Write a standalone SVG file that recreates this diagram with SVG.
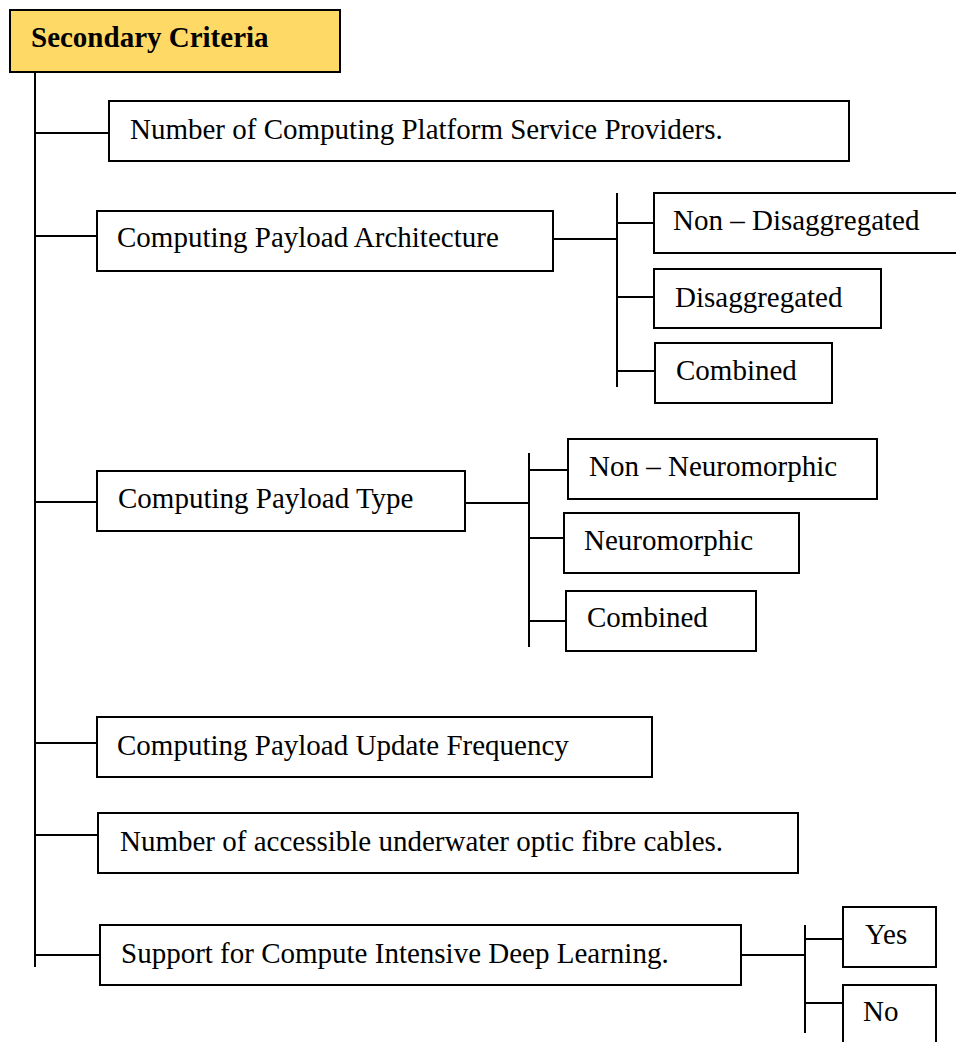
<svg xmlns="http://www.w3.org/2000/svg" width="956" height="1042" viewBox="0 0 956 1042">
<style>
.box{fill:#fff;stroke:#000;stroke-width:2}
.title{fill:#FFD966;stroke:#000;stroke-width:2}
.t{font-family:"Liberation Serif","Times New Roman",serif;font-size:29px;fill:#000}
.tb{font-family:"Liberation Serif","Times New Roman",serif;font-size:29px;font-weight:bold;fill:#000}
.c{stroke:#000;stroke-width:2;fill:none}
</style>
<rect width="956" height="1042" fill="#fff"/>
<g id="connectors">
<line class="c" x1="35" y1="72" x2="35" y2="967"/>
<line class="c" x1="35" y1="133" x2="109" y2="133"/>
<line class="c" x1="35" y1="236" x2="97" y2="236"/>
<line class="c" x1="35" y1="502" x2="97" y2="502"/>
<line class="c" x1="35" y1="743" x2="97" y2="743"/>
<line class="c" x1="35" y1="835" x2="98" y2="835"/>
<line class="c" x1="35" y1="955" x2="100" y2="955"/>
<line class="c" x1="553" y1="239" x2="617" y2="239"/>
<line class="c" x1="617" y1="193" x2="617" y2="387"/>
<line class="c" x1="617" y1="223" x2="654" y2="223"/>
<line class="c" x1="617" y1="297" x2="654" y2="297"/>
<line class="c" x1="617" y1="371" x2="655" y2="371"/>
<line class="c" x1="465" y1="503" x2="529" y2="503"/>
<line class="c" x1="529" y1="453" x2="529" y2="647"/>
<line class="c" x1="529" y1="470" x2="567" y2="470"/>
<line class="c" x1="529" y1="538" x2="564" y2="538"/>
<line class="c" x1="529" y1="621" x2="566" y2="621"/>
<line class="c" x1="741" y1="955" x2="805" y2="955"/>
<line class="c" x1="805" y1="925" x2="805" y2="1033"/>
<line class="c" x1="805" y1="939" x2="843" y2="939"/>
<line class="c" x1="805" y1="1003" x2="843" y2="1003"/>
</g>
<g id="n-root"><rect class="title" x="10" y="10" width="330" height="62"/><text class="tb" x="31" y="47">Secondary Criteria</text></g>
<g id="n-providers"><rect class="box" x="109" y="101" width="740" height="60"/><text class="t" x="130" y="139">Number of Computing Platform Service Providers.</text></g>
<g id="n-arch"><rect class="box" x="97" y="211" width="456" height="60"/><text class="t" x="117" y="247">Computing Payload Architecture</text></g>
<g id="n-nondisagg"><rect class="box" x="654" y="193" width="310" height="60"/><text class="t" x="673" y="230">Non – Disaggregated</text></g>
<g id="n-disagg"><rect class="box" x="654" y="269" width="227" height="59"/><text class="t" x="675" y="307">Disaggregated</text></g>
<g id="n-combined1"><rect class="box" x="655" y="343" width="177" height="60"/><text class="t" x="676" y="380">Combined</text></g>
<g id="n-type"><rect class="box" x="97" y="471" width="368" height="60"/><text class="t" x="118" y="508">Computing Payload Type</text></g>
<g id="n-nonneuro"><rect class="box" x="568" y="439" width="309" height="60"/><text class="t" x="589" y="476">Non – Neuromorphic</text></g>
<g id="n-neuro"><rect class="box" x="564" y="513" width="235" height="60"/><text class="t" x="584" y="550">Neuromorphic</text></g>
<g id="n-combined2"><rect class="box" x="566" y="591" width="190" height="60"/><text class="t" x="587" y="627">Combined</text></g>
<g id="n-update"><rect class="box" x="97" y="717" width="555" height="60"/><text class="t" x="117" y="755">Computing Payload Update Frequency</text></g>
<g id="n-cables"><rect class="box" x="98" y="813" width="700" height="60"/><text class="t" x="120" y="851">Number of accessible underwater optic fibre cables.</text></g>
<g id="n-deep"><rect class="box" x="100" y="925" width="641" height="60"/><text class="t" x="121" y="963">Support for Compute Intensive Deep Learning.</text></g>
<g id="n-yes"><rect class="box" x="843" y="907" width="93" height="60"/><text class="t" x="865" y="944">Yes</text></g>
<g id="n-no"><rect class="box" x="843" y="985" width="93" height="70"/><text class="t" x="863" y="1021">No</text></g>
</svg>
